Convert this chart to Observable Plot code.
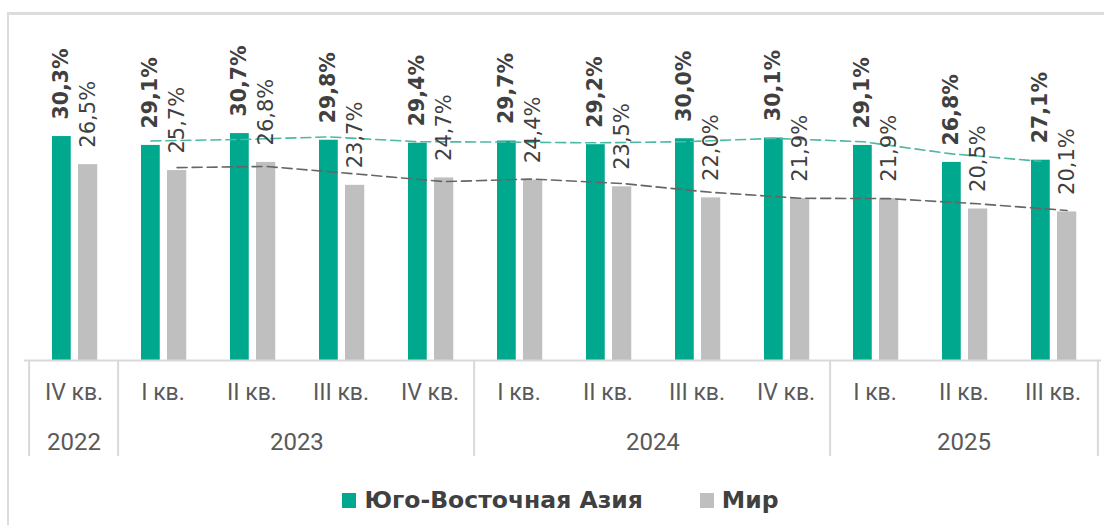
<!DOCTYPE html>
<html>
<head>
<meta charset="utf-8">
<script src="https://cdn.jsdelivr.net/npm/d3@7"></script>
<script src="https://cdn.jsdelivr.net/npm/@observablehq/plot@0.6"></script>
<style>
  html, body { margin: 0; padding: 0; background: #fff; }
  #wrap { position: relative; width: 1104px; height: 525px; overflow: hidden; }
  #border { position: absolute; left: 7px; top: 12px; width: 1200px; height: 700px;
            border-left: 2px solid #dcdcdc; border-top: 3px solid #dcdcdc; box-sizing: border-box; }
  #chart { position: absolute; left: 0; top: 0; width: 1104px; }
  #legend { position: absolute; left: 0; top: 470px; width: 1104px; display: flex; justify-content: center;
            align-items: center; padding-top: 16px; padding-left: 17px; box-sizing: border-box;
            font-family: "DejaVu Sans", sans-serif; font-weight: bold; font-size: 23.5px; color: #404040; }
  .item { display: flex; align-items: center; }
  .sw { width: 14px; height: 15px; margin-right: 8px; }
</style>
</head>
<body>
<div id="wrap">
  <div id="border"></div>
  <div id="chart"></div>
  <div id="legend"></div>
</div>
<script>
// ---- Data ----
const quarters = ["IV кв.", "I кв.", "II кв.", "III кв.", "IV кв.", "I кв.", "II кв.", "III кв.", "IV кв.", "I кв.", "II кв.", "III кв."];
const quarterYears = ["2022", "2023", "2023", "2023", "2023", "2024", "2024", "2024", "2024", "2025", "2025", "2025"];
const seaValues = [30.3, 29.1, 30.7, 29.8, 29.4, 29.7, 29.2, 30.0, 30.1, 29.1, 26.8, 27.1];
const worldValues = [26.5, 25.7, 26.8, 23.7, 24.7, 24.4, 23.5, 22.0, 21.9, 21.9, 20.5, 20.1];
const seriesNames = ["Юго-Восточная Азия", "Мир"];
const colors = ["#00a88e", "#bfbfbf"];
const trendColors = ["#4db8a4", "#666666"];

// ---- Build table ----
const keys = quarters.map((_, i) => String(i));
const rows = keys.map((k, i) => ({key: k, q: quarters[i], year: quarterYears[i], sea: seaValues[i], world: worldValues[i]}));

const yearGroups = d3.groups(rows, d => d.year).map(([year, rs]) => ({year, first: rs[0].key, last: rs[rs.length - 1].key, n: rs.length, mid: rs[Math.floor((rs.length - 1) / 2)].key}));

const W = 1104, H = 470;
const xRange = [24, 1101];
const xScale = Plot.scale({x: {type: "band", domain: keys, range: xRange, padding: 0}});
const step = xScale.step;
const bw = xScale.bandwidth;

const gIn = [23, bw - 23 - 19.5];
const wIn = [49, bw - 49 - 20];
const gDx = (gIn[0] + (bw - gIn[1])) / 2 - bw / 2;
const wDx = (wIn[0] + (bw - wIn[1])) / 2 - bw / 2;

const fmt = v => v.toFixed(1).replace(".", ",") + "%";
const evenYears = yearGroups.filter(g => g.n % 2 === 0);
const oddYears = yearGroups.filter(g => g.n % 2 === 1);
const boundaries = yearGroups.map(g => g.first);

const labelFont = "'DejaVu Sans', sans-serif";

const chart = Plot.plot({
  width: W,
  height: H,
  marginTop: 20,
  marginBottom: H - 360,
  marginLeft: xRange[0],
  marginRight: W - xRange[1],
  style: {fontFamily: "Roboto, sans-serif", background: "transparent", maxWidth: "none"},
  x: {type: "band", domain: keys, padding: 0, axis: null},
  y: {domain: [0, 46], axis: null},
  marks: [
    Plot.barY(rows, {x: "key", y: "sea", fill: colors[0], insetLeft: gIn[0], insetRight: gIn[1]}),
    Plot.barY(rows, {x: "key", y: "world", fill: colors[1], insetLeft: wIn[0], insetRight: wIn[1]}),
    Plot.lineY(rows, Plot.windowY({k: 2, anchor: "end", strict: true}, {x: "key", y: "world", stroke: trendColors[1], strokeWidth: 1.6, strokeDasharray: "10,5", dx: wDx})),
    Plot.lineY(rows, Plot.windowY({k: 2, anchor: "end", strict: true}, {x: "key", y: "sea", stroke: trendColors[0], strokeWidth: 1.6, strokeDasharray: "10,5", dx: gDx})),
    Plot.text(rows, {x: "key", y: "sea", text: d => fmt(d.sea), rotate: -90, textAnchor: "start", lineAnchor: "middle",
      dx: gDx, dy: -17, fill: "#404040", fontWeight: "bold", fontSize: 20.5, fontFamily: labelFont}),
    Plot.text(rows, {x: "key", y: "world", text: d => fmt(d.world), rotate: -90, textAnchor: "start", lineAnchor: "middle",
      dx: wDx, dy: -17, fill: "#404040", fontSize: 21, fontFamily: labelFont}),
    Plot.ruleY([0], {stroke: "#d9d9d9", strokeWidth: 2}),
    Plot.axisX({tickSize: 0, tickPadding: 23, tickFormat: i => quarters[+i], fontSize: 23, fill: "#595959", fontFamily: "Roboto"}),
    Plot.axisX({ticks: boundaries, tickSize: 96, dx: -step / 2, tickFormat: () => "", stroke: "#d9d9d9", strokeWidth: 2, strokeOpacity: 1}),
    Plot.axisX({ticks: [keys[keys.length - 1]], tickSize: 96, dx: step / 2, tickFormat: () => "", stroke: "#d9d9d9", strokeWidth: 2, strokeOpacity: 1}),
    Plot.text(oddYears, {x: "mid", text: "year", frameAnchor: "bottom", lineAnchor: "top", dy: 72, fontSize: 24, fill: "#595959", fontFamily: "Roboto"}),
    Plot.text(evenYears, {x: "mid", text: "year", frameAnchor: "bottom", lineAnchor: "top", dy: 72, dx: step / 2, fontSize: 24, fill: "#595959", fontFamily: "Roboto"})
  ]
});
document.getElementById("chart").appendChild(chart);

const legend = document.getElementById("legend");
seriesNames.forEach((name, i) => {
  const item = document.createElement("div");
  item.className = "item";
  if (i > 0) item.style.marginLeft = "57px";
  const sw = document.createElement("div");
  sw.className = "sw";
  sw.style.background = colors[i];
  const t = document.createElement("span");
  t.textContent = name;
  item.appendChild(sw);
  item.appendChild(t);
  legend.appendChild(item);
});
</script>
</body>
</html>
